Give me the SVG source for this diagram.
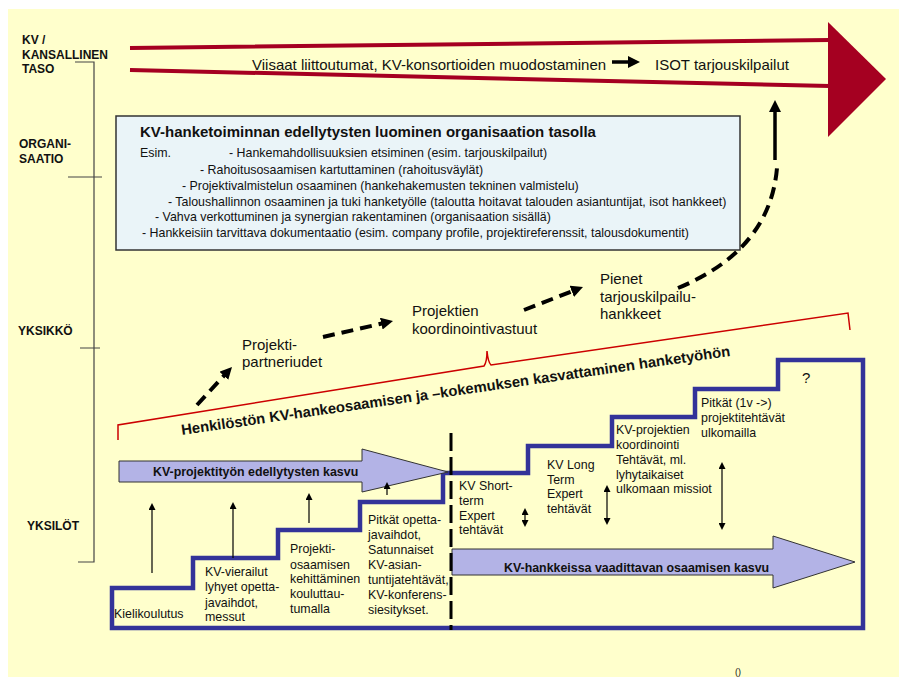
<svg xmlns="http://www.w3.org/2000/svg" width="899" height="677" viewBox="0 0 899 677">
<style>
text{font-family:"Liberation Sans",Arial,sans-serif;fill:#111}
.lbl{font-size:12px;font-weight:bold}
.box{font-size:12.4px}
.st{font-size:12.4px}
.mid{font-size:15px}
.b{font-weight:bold}
.dash{stroke:#000;stroke-width:4;fill:none;stroke-dasharray:12 7}
.thin{stroke:#000;stroke-width:1.2;fill:none}
.red{stroke:#A50021;stroke-width:4;fill:none}
.brk{stroke:#444;stroke-width:1.2;fill:none}
.garrow{fill:#B3B3E6;stroke:#333;stroke-width:1}
</style>
<defs>
<marker id="hb" markerUnits="userSpaceOnUse" markerWidth="12" markerHeight="12" viewBox="0 0 12 12" refX="3" refY="6" orient="auto"><path d="M0,0 L12,6 L0,12 z" fill="#000"/></marker>
<marker id="hs" markerUnits="userSpaceOnUse" markerWidth="7" markerHeight="7" viewBox="0 0 7 7" refX="2" refY="3.5" orient="auto-start-reverse"><path d="M0,0 L7,3.5 L0,7 z" fill="#000"/></marker>
</defs>
<rect x="8" y="9" width="891" height="668" fill="#FFFFCC"/>

<g id="levels">
<text class="lbl" x="22" y="44">KV /</text>
<text class="lbl" x="22" y="58.5">KANSALLINEN</text>
<text class="lbl" x="22" y="73">TASO</text>
<text class="lbl" x="19" y="148">ORGANI-</text>
<text class="lbl" x="19" y="162.5">SAATIO</text>
<text class="lbl" x="18" y="335">YKSIKKÖ</text>
<text class="lbl" x="27" y="530">YKSILÖT</text>
<path class="brk" d="M75,62 H94 V562 H78 M68,177 H102 M80,348 H100"/>
</g>

<g id="national-arrow">
<path class="red" d="M130,48 L830,40 M130,70 L830,86"/>
<polygon points="828,22 886,79 828,137" fill="#A50021"/>
<text class="mid" x="252" y="70">Viisaat liittoutumat, KV-konsortioiden muodostaminen</text>
<text class="mid" x="655" y="70">ISOT tarjouskilpailut</text>
</g>

<g id="org-box">
<rect x="116" y="116" width="624" height="134" fill="#EAF4F8" stroke="#333" stroke-width="1.5"/>
<text x="140" y="137" font-size="15" font-weight="bold">KV-hanketoiminnan edellytysten luominen organisaation tasolla</text>
<text class="box" x="140" y="157">Esim.</text>
<text class="box" x="229" y="157">- Hankemahdollisuuksien etsiminen (esim. tarjouskilpailut)</text>
<text class="box" x="200" y="173.5">- Rahoitusosaamisen kartuttaminen (rahoitusväylät)</text>
<text class="box" x="182" y="190">- Projektivalmistelun osaaminen (hankehakemusten tekninen valmistelu)</text>
<text class="box" x="168" y="205.5">- Taloushallinnon osaaminen ja tuki hanketyölle (taloutta hoitavat talouden asiantuntijat, isot hankkeet)</text>
<text class="box" x="155" y="221">- Vahva verkottuminen ja synergian rakentaminen (organisaation sisällä)</text>
<text class="box" x="142" y="237">- Hankkeisiin tarvittava dokumentaatio (esim. company profile, projektireferenssit, talousdokumentit)</text>
</g>

<g id="unit-labels">
<text class="mid" x="242" y="350">Projekti-</text>
<text class="mid" x="242" y="367">partneriudet</text>
<text class="mid" x="412" y="316">Projektien</text>
<text class="mid" x="412" y="333.5">koordinointivastuut</text>
<text class="mid" x="600" y="284">Pienet</text>
<text class="mid" x="600" y="301.5">tarjouskilpailu-</text>
<text class="mid" x="600" y="318.5">hankkeet</text>
</g>

<g id="brace">
<path d="M118,440 L118,425 L484,366 Q487,362 487,351 Q488,362 491,365 L848,313 L850,330" stroke="#CC0000" stroke-width="1.5" fill="none"/>
<text transform="translate(182,435) rotate(-8.2)" font-size="14.8" font-weight="bold">Henkilöstön KV-hankeosaamisen ja –kokemuksen kasvattaminen hanketyöhön</text>
</g>

<g id="stairs">
<polygon points="112,588 193,588 193,558 278,558 278,530 360,530 360,502 443,502 443,473 528,473 528,446 612,446 612,417 695,417 695,389 778,389 778,360 863,360 863,628 112,628" fill="none" stroke="#333399" stroke-width="4.5" stroke-linejoin="miter"/>
</g>

<g id="growth-arrow-1">
<polygon class="garrow" points="119,461 362,461 362,449 448,472 362,492 362,482 119,482"/>
<text class="st b" x="153" y="476">KV-projektityön edellytysten kasvu</text>
</g>

<g id="growth-arrow-2">
<polygon class="garrow" points="452,549 773,549 773,536 855,562 773,588 773,575 452,575"/>
<text class="st b" x="504" y="572">KV-hankkeissa vaadittavan osaamisen kasvu</text>
</g>

<g id="step-texts">
<text class="st" x="114" y="618">Kielikoulutus</text>
<text class="st" x="205" y="576">KV-vierailut</text>
<text class="st" x="205" y="591">lyhyet opetta-</text>
<text class="st" x="205" y="606.5">javaihdot,</text>
<text class="st" x="205" y="621">messut</text>
<text class="st" x="290" y="553">Projekti-</text>
<text class="st" x="290" y="568.5">osaamisen</text>
<text class="st" x="290" y="583">kehittäminen</text>
<text class="st" x="290" y="598">kouluttau-</text>
<text class="st" x="290" y="612.5">tumalla</text>
<text class="st" x="368" y="524">Pitkät opetta-</text>
<text class="st" x="368" y="539">javaihdot,</text>
<text class="st" x="368" y="554">Satunnaiset</text>
<text class="st" x="368" y="569">KV-asian-</text>
<text class="st" x="368" y="583.5">tuntijatehtävät,</text>
<text class="st" x="368" y="598.5">KV-konferens-</text>
<text class="st" x="368" y="613.5">siesitykset.</text>
<text class="st" x="459" y="490">KV Short-</text>
<text class="st" x="459" y="505">term</text>
<text class="st" x="459" y="519.5">Expert</text>
<text class="st" x="459" y="534">tehtävät</text>
<text class="st" x="547" y="469">KV Long</text>
<text class="st" x="547" y="483.5">Term</text>
<text class="st" x="547" y="498">Expert</text>
<text class="st" x="547" y="512.5">tehtävät</text>
<text class="st" x="616" y="434">KV-projektien</text>
<text class="st" x="616" y="449">koordinointi</text>
<text class="st" x="616" y="464">Tehtävät, ml.</text>
<text class="st" x="616" y="478.5">lyhytaikaiset</text>
<text class="st" x="616" y="493">ulkomaan missiot</text>
<text class="st" x="701" y="407">Pitkät (1v -&gt;)</text>
<text class="st" x="701" y="422">projektitehtävät</text>
<text class="st" x="701" y="437">ulkomailla</text>
<text x="802" y="383" font-size="15">?</text>
</g>

<g id="connectors">
<line class="dash" x1="197" y1="405" x2="225.9" y2="373.6" marker-end="url(#hb)"/>
<line class="dash" x1="323" y1="337" x2="384.2" y2="323" marker-end="url(#hb)"/>
<line class="dash" x1="524" y1="310" x2="574.6" y2="290.3" marker-end="url(#hb)"/>
<path class="dash" d="M678,288 Q770,250 777,168"/>
<line x1="775" y1="160" x2="775" y2="109" stroke="#000" stroke-width="3.5" marker-end="url(#hb)"/>
<line x1="612" y1="62" x2="631" y2="62" stroke="#000" stroke-width="3.5" marker-end="url(#hb)"/>
<line class="thin" x1="152" y1="573" x2="152" y2="508" marker-end="url(#hs)"/>
<line class="thin" x1="233" y1="558" x2="233" y2="507" marker-end="url(#hs)"/>
<line class="thin" x1="309" y1="523" x2="309" y2="498" marker-end="url(#hs)"/>
<line class="thin" x1="387" y1="495" x2="387" y2="487" marker-end="url(#hs)"/>
<line class="thin" x1="525" y1="513" x2="525" y2="522" marker-start="url(#hs)" marker-end="url(#hs)"/>
<line class="thin" x1="607" y1="490" x2="607" y2="520" marker-start="url(#hs)" marker-end="url(#hs)"/>
<line class="thin" x1="722" y1="467" x2="722" y2="525" marker-start="url(#hs)" marker-end="url(#hs)"/>
<line x1="451" y1="433" x2="451" y2="630" stroke="#000" stroke-width="3" stroke-dasharray="18 6"/>
</g>

<text x="735" y="675" font-size="9">()</text>
</svg>
